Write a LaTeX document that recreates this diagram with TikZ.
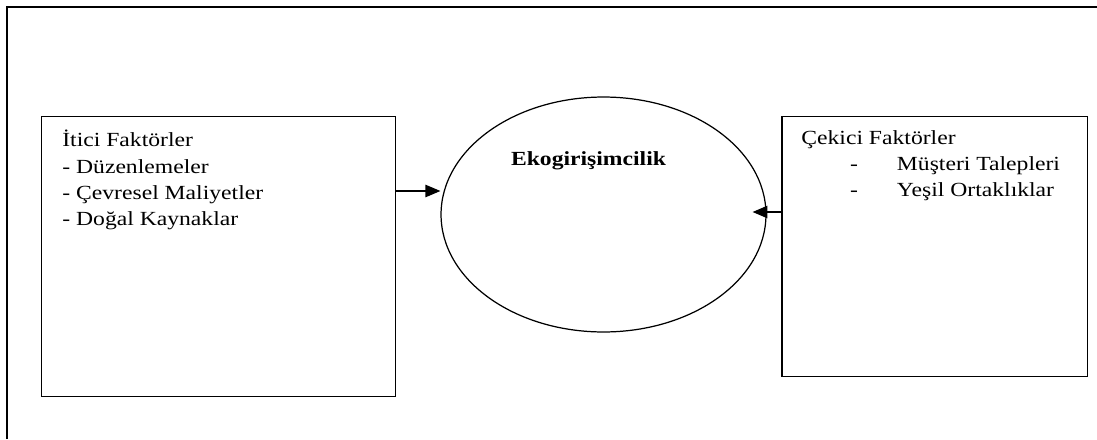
\documentclass[tikz,border=0pt]{standalone}
\usepackage{fontspec}
\setmainfont{Liberation Serif}[FakeStretch=1.18]
\usetikzlibrary{arrows.meta,positioning,shapes.geometric}

% indented list item in the right-hand box
\newcommand{\pullitem}[1]{\hspace*{27.8pt}\makebox[26.6pt][l]{-}#1}

\begin{document}
\begin{tikzpicture}[
    x=0.02cm, y=-0.02cm,
    font=\fontsize{11.4}{15}\selectfont,
    frame/.style={line width=0.85pt},
    box/.style={draw, line width=0.85pt, inner sep=0pt, anchor=north west},
    txt/.style={align=left, inner sep=0pt, anchor=north west},
    arrow/.style={-{Triangle[length=8.5pt,width=7pt]}, line width=0.85pt}
  ]
    \useasboundingbox (0,0) rectangle (1097,439);
    % outer frame, open at right and bottom
    \draw[frame] (7,439) -- (7,7) -- (1097,7);
    \node[box, minimum width=7.08cm, minimum height=5.6cm] (push) at (41,116) {};
    \node[box, minimum width=6.12cm, minimum height=5.2cm] (pull) at (781,116) {};
    \node[draw, ellipse, line width=0.7pt, inner sep=0pt, minimum width=6.5cm,
      minimum height=4.7cm] (eco) at (603.5,214.5) {};
    \node[txt] (pushtxt) at (62,130) {İtici Faktörler\\- Düzenlemeler\\- Çevresel Maliyetler\\- Doğal Kaynaklar};
    \node[txt] (pulltxt) at (801,130) {Çekici Faktörler\\\pullitem{Müşteri Talepleri}\\\pullitem{Yeşil Ortaklıklar}};
    \node[anchor=base, inner sep=0pt, font=\fontsize{11.4}{15}\selectfont\bfseries] (ecotxt) at (588.5,165) {Ekogirişimcilik};
    \coordinate (pushy) at (0,191);
    \coordinate (pully) at (0,212);
    \draw[arrow] (push.east |- pushy) -- (eco.west |- pushy);
    \draw[arrow, shorten >=-8pt] (pull.west |- pully) -- (eco.east |- pully);
  \end{tikzpicture}
\end{document}
